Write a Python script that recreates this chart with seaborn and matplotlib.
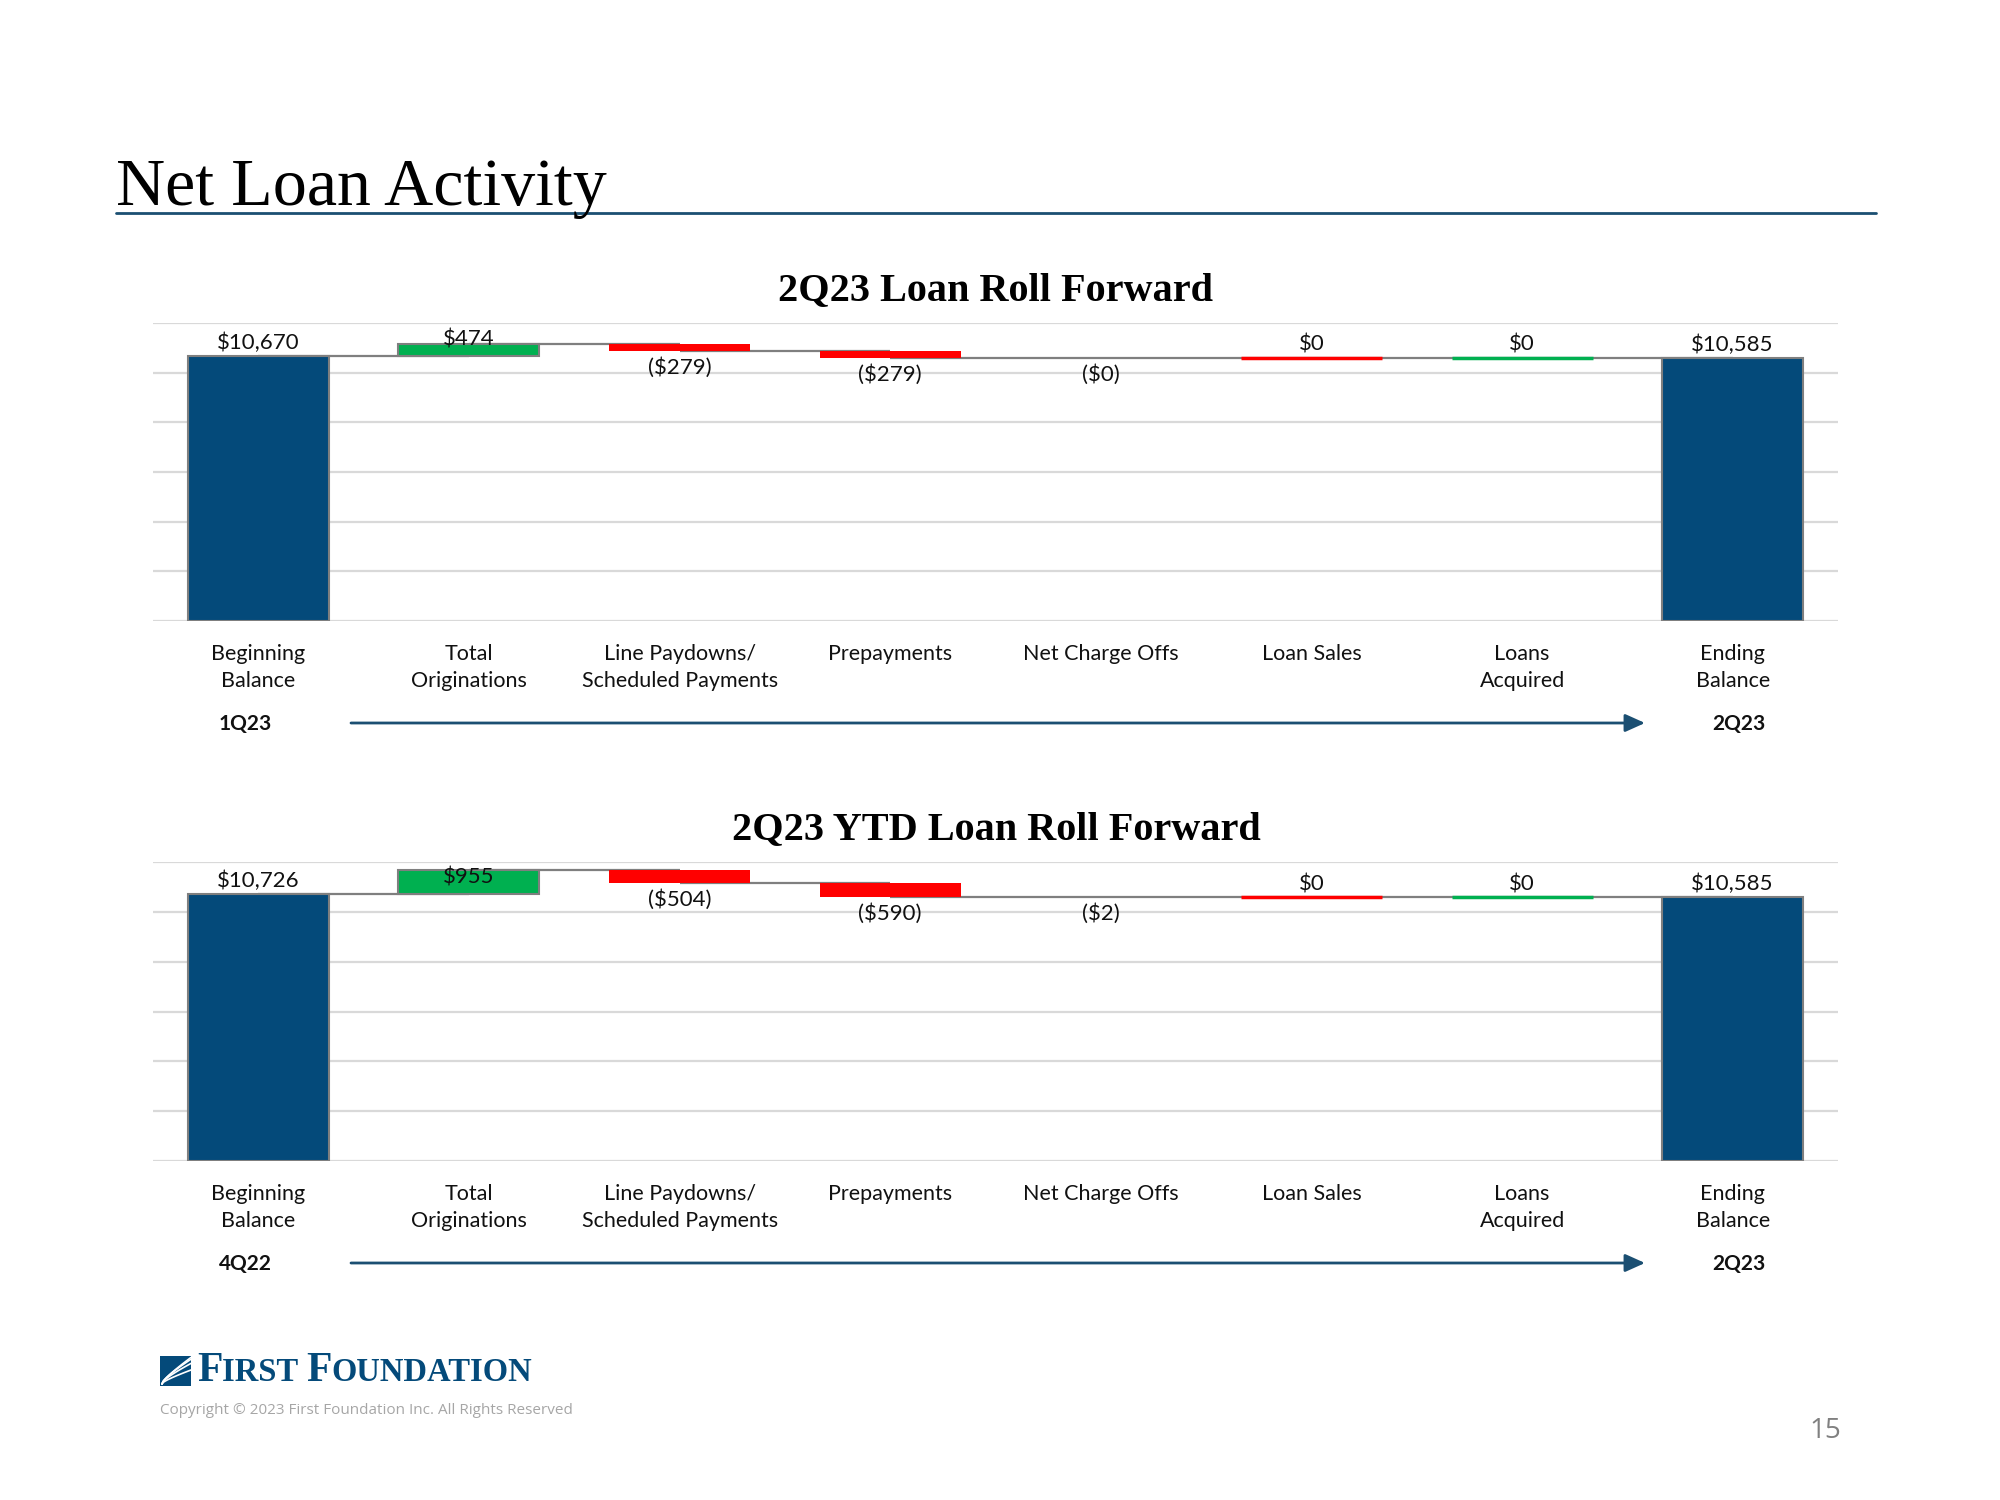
import numpy as np
import pandas as pd
import matplotlib
matplotlib.use("Agg")
import matplotlib.pyplot as plt
import seaborn as sns
from matplotlib.patches import Rectangle
from matplotlib.offsetbox import TextArea, HPacker, AnnotationBbox

# ---------------- data ----------------
categories = ["Beginning\nBalance", "Total\nOriginations", "Line Paydowns/\nScheduled Payments",
              "Prepayments", "Net Charge Offs", "Loan Sales", "Loans\nAcquired", "Ending\nBalance"]
kinds = ["total", "up", "down", "down", "down", "down", "up", "total"]

q_values = [10670, 474, -279, -279, 0, 0, 0, 10585]
q_labels = ["$10,670", "$474", "($279)", "($279)", "($0)", "$0", "$0", "$10,585"]
q_periods = ["1Q23", "2Q23"]

ytd_values = [10726, 955, -504, -590, -2, 0, 0, 10585]
ytd_labels = ["$10,726", "$955", "($504)", "($590)", "($2)", "$0", "$0", "$10,585"]
ytd_periods = ["4Q22", "2Q23"]

titles = ["2Q23 Loan Roll Forward", "2Q23 YTD Loan Roll Forward"]

# ---------------- style ----------------
BLUE = "#044A7A"
GREEN = "#00B050"
RED = "#FF0000"
GREY = "#7F7F7F"
GRID = "#D9D9D9"
NAVY = "#1B4F72"
kind_color = {"total": BLUE, "up": GREEN, "down": RED}
edge_colors = [GREY, GREY, "none", "none", "none", RED, GREEN, GREY]
edge_widths = [1.5, 1.5, 0, 0, 0, 2.5, 2.5, 1.5]

sns.set_theme(style="white")
SANS = ["Lato", "DejaVu Sans"]
SERIF = ["Liberation Serif", "DejaVu Serif"]
plt.rcParams["font.family"] = SANS

W, H = 2000, 1500
fig = plt.figure(figsize=(20, 15), dpi=100)

# overlay axes in pixel coordinates for slide decoration
ov = fig.add_axes([0, 0, 1, 1])
ov.set_xlim(0, W)
ov.set_ylim(H, 0)
ov.axis("off")


def waterfall(values):
    bottoms, heights, levels = [], [], []
    level = 0
    for v, k in zip(values, kinds):
        if k == "total":
            bottoms.append(0)
            heights.append(v)
            level = v
        else:
            new = level + v
            bottoms.append(min(level, new))
            heights.append(abs(v))
            level = new
        levels.append(level)
    return np.array(bottoms), np.array(heights), np.array(levels)


def draw_chart(rect, values, labels):
    ax = fig.add_axes(rect)
    ax.patch.set_alpha(0)
    bottoms, heights, levels = waterfall(values)
    df = pd.DataFrame({"category": categories, "height": heights})
    face = [kind_color[k] for k in kinds]
    sns.barplot(data=df, x="category", y="height", order=categories, width=0.67,
                color=BLUE, saturation=1,
                bottom=bottoms, facecolor=face, edgecolor=edge_colors,
                linewidth=edge_widths, zorder=2, ax=ax)
    # connectors
    for i in range(len(categories) - 1):
        ax.plot([i, i + 1], [levels[i], levels[i]], color=GREY, lw=1.6, zorder=1.5,
                solid_capstyle="butt")
    ax.set_xlim(-0.5, len(categories) - 0.5)
    ax.set_ylim(0, 12000)
    ax.set_yticks(np.arange(0, 12001, 2000))
    ax.set_yticklabels([])
    ax.yaxis.grid(True, color=GRID, lw=1.6)
    ax.set_axisbelow(True)
    for s in ax.spines.values():
        s.set_visible(False)
    ax.set_xlabel("")
    ax.set_ylabel("")
    ax.tick_params(axis="x", length=0, pad=16.5)
    ax.tick_params(axis="y", length=0)
    ax.set_xticks(range(len(categories)))
    ax.set_xticklabels(categories, fontsize=15.5, color="#111111", linespacing=1.42)
    # value labels
    for i, (lab, k) in enumerate(zip(labels, kinds)):
        top = bottoms[i] + heights[i]
        if lab.startswith("("):
            y, dy = bottoms[i], -12
        elif k == "up" and heights[i] > 0:
            y, dy = bottoms[i], 12
        else:
            y, dy = top, 9.5
        ax.annotate(lab, (i, y), xytext=(0, dy), textcoords="offset points",
                    ha="center", va="center", fontsize=16, color="#111111", zorder=5)
    return ax


def fx(px):
    return px / W


def fy(py):
    return 1 - py / H


ax1 = draw_chart([fx(153), fy(621), fx(1838) - fx(153), fy(323) - fy(621)], q_values, q_labels)
ax2 = draw_chart([fx(153), fy(1161), fx(1838) - fx(153), fy(862) - fy(1161)], ytd_values, ytd_labels)

# title and rule
ov.text(116, 205, "Net Loan Activity", fontsize=49, family=SERIF, color="black",
        ha="left", va="baseline")
ov.plot([116, 1876], [213, 213], color=NAVY, lw=2)

# chart titles
ov.text(996, 300, titles[0], fontsize=29, family=SERIF, fontweight="bold",
        ha="center", va="baseline", color="black")
ov.text(996, 839, titles[1], fontsize=29, family=SERIF, fontweight="bold",
        ha="center", va="baseline", color="black")

# period arrows
for yy, periods in [(724, q_periods), (1264, ytd_periods)]:
    ov.text(245, yy, periods[0], fontsize=15, fontweight="bold", ha="center", va="center",
            color="#111111")
    ov.text(1739, yy, periods[1], fontsize=15, fontweight="bold", ha="center", va="center",
            color="#111111")
    ov.annotate("", xy=(1645, yy - 1), xytext=(351, yy - 1),
                arrowprops=dict(arrowstyle="-|>,head_length=0.6,head_width=0.27",
                                color=NAVY, lw=2, shrinkA=0, shrinkB=0, mutation_scale=20))

# logo
ov.add_patch(Rectangle((160, 1356), 31, 30, color=BLUE, lw=0))
t = np.linspace(0, 1, 30)
for k in range(4):
    off = 6 + k * 6
    xs = 160 + 2 + t * 29
    ys = 1386 - 2 - (off * t ** 0.5) * (1 - 0.2 * k) - t * (8 + 3 * k)
    ov.plot(xs, np.clip(ys, 1357, 1385), color="white", lw=1.2)

tp_big = dict(fontsize=30, family=SERIF, fontweight="bold", color=BLUE)
tp_small = dict(fontsize=23.5, family=SERIF, fontweight="bold", color=BLUE)
logo = HPacker(children=[TextArea("F", textprops=tp_big), TextArea("IRST ", textprops=tp_small),
                         TextArea("F", textprops=tp_big), TextArea("OUNDATION", textprops=tp_small)],
               align="baseline", pad=0, sep=0)
ab = AnnotationBbox(logo, (197, 1371), box_alignment=(0, 0.5), frameon=False, pad=0)
ov.add_artist(ab)

ov.text(160, 1411, "Copyright \u00a9 2023 First Foundation Inc. All Rights Reserved", fontsize=11,
        family=["Open Sans", "DejaVu Sans"], color="#A6A6A6", ha="left", va="center")
ov.text(1825, 1431, "15", fontsize=20, family=["Open Sans", "DejaVu Sans"], color="#808080",
        ha="center", va="center")

fig.savefig("out.png", dpi=100, facecolor="white")
